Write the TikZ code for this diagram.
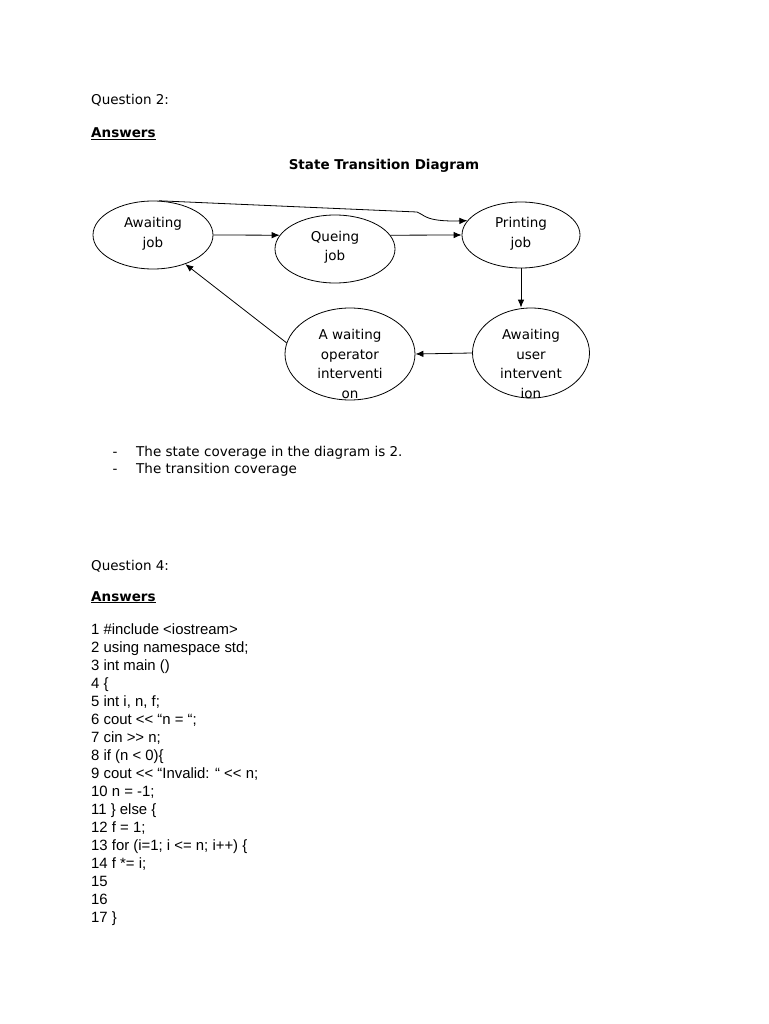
\documentclass[tikz,border=0pt]{standalone}
\usepackage{fontspec}
\setmainfont{DejaVu Sans}
\newfontfamily\codefont{Liberation Sans}
\usetikzlibrary{shapes.geometric,arrows.meta}
\begin{document}
\begin{tikzpicture}[x=1pt,y=-1pt,
  txt/.style={inner sep=0pt,anchor=base west,font=\fontsize{13.5}{16}\selectfont},
  btxt/.style={inner sep=0pt,anchor=base west,font=\bfseries\fontsize{13.5}{16}\selectfont},
  state/.style={draw,ellipse,inner sep=0pt,line width=0.8pt},
  stxt/.style={inner sep=0pt,align=center,font=\fontsize{13.5}{19.5}\selectfont},
  code/.style={inner sep=0pt,anchor=base west,font=\codefont\fontsize{14.9}{18}\selectfont},
  arr/.style={-{Latex[length=8pt,width=6.5pt]},line width=0.8pt}]
\useasboundingbox[fill=white] (0,0) rectangle (768,1024);

\node[txt] (q2) at (91,105) {Question 2:};
\node[btxt] (a2) at (91,138) {\underline{Answers}};
\node[btxt,anchor=base] (title) at (384,170) {State Transition Diagram};

\node[state,minimum width=120pt,minimum height=68pt] (aj) at (153,235) {};
\node[state,minimum width=120pt,minimum height=68pt] (qj) at (335,249) {};
\node[state,minimum width=118pt,minimum height=66pt] (pj) at (521,235) {};
\node[state,minimum width=117pt,minimum height=90pt] (au) at (531,353) {};
\node[state,minimum width=130pt,minimum height=92pt] (op) at (350,354) {};

\node[stxt] (ajt) at (153,234) {Awaiting\\job};
\node[stxt] (qjt) at (335,247.5) {Queing\\job};
\node[stxt] (pjt) at (521,234) {Printing\\job};
\node[stxt] (aut) at (531,364) {Awaiting\\user\\intervent\\ion};
\node[stxt] (opt) at (350,364) {A waiting\\operator\\interventi\\on};

\draw[arr] (aj.east) -- (qj.166);
\draw[arr] (qj.14) -- (pj.west);
\draw[arr] (aj.80) -- (417,212)
  .. controls (424,214) and (424,222) .. (pj.165);
\draw[arr] (pj.south) -- (pj.south |- au.north);
\draw[arr] (au.west) -- (op.east);
\draw[arr] (op.170) -- (aj.-42);

\node[txt] (b1d) at (112.5,456) {-};
\node[txt] (b1) at (136,456) {The state coverage in the diagram is 2.};
\node[txt] (b2d) at (112.5,473) {-};
\node[txt] (b2) at (136,473) {The transition coverage};

\node[txt] (q4) at (91,570) {Question 4:};
\node[btxt] (a4) at (91,601) {\underline{Answers}};

\node[code] (c1) at (91,634) {1 \#include <iostream>};
\node[code] (c2) at (91,652) {2 using namespace std;};
\node[code] (c3) at (91,670) {3 int main ()};
\node[code] (c4) at (91,688) {4 \{};
\node[code] (c5) at (91,706) {5 int i, n, f;};
\node[code] (c6) at (91,724) {6 cout << “n = “;};
\node[code] (c7) at (91,742) {7 cin >> n;};
\node[code] (c8) at (91,760) {8 if (n < 0)\{};
\node[code] (c9) at (91,778) {9 cout << “Invalid: “ << n;};
\node[code] (c10) at (91,796) {10 n = -1;};
\node[code] (c11) at (91,814) {11 \} else \{};
\node[code] (c12) at (91,832) {12 f = 1;};
\node[code] (c13) at (91,850) {13 for (i=1; i <= n; i++) \{};
\node[code] (c14) at (91,868) {14 f *= i;};
\node[code] (c15) at (91,886) {15};
\node[code] (c16) at (91,904) {16};
\node[code] (c17) at (91,922) {17 \}};
\end{tikzpicture}
\end{document}
